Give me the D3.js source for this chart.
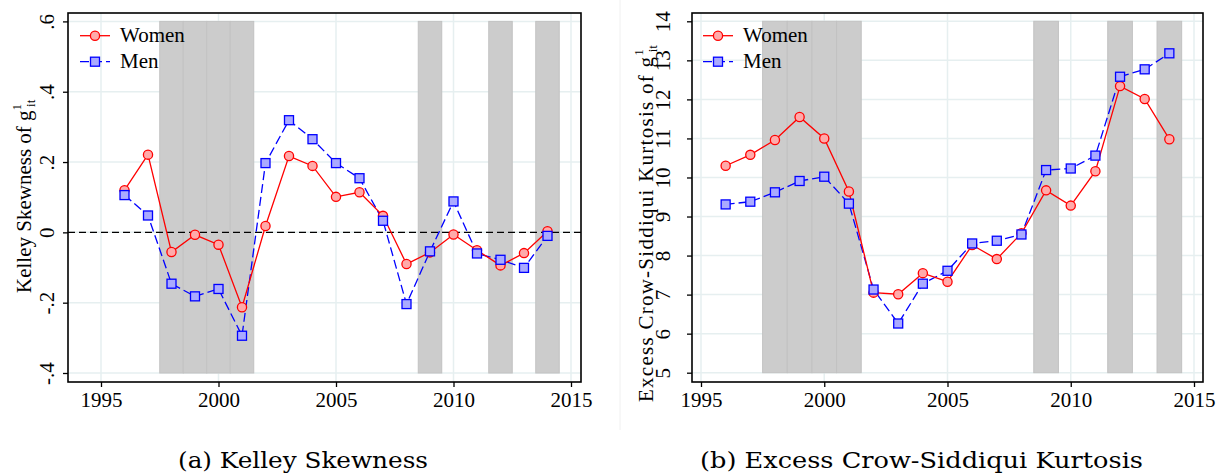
<!DOCTYPE html>
<html>
<head>
<meta charset="utf-8">
<script src="https://cdn.jsdelivr.net/npm/d3@7"></script>
<style>
  html, body { margin: 0; padding: 0; background: #fff; }
  svg { display: block; }
  text { font-family: "Liberation Serif", "Times New Roman", Times, serif; fill: #000; }
</style>
</head>
<body>
<svg id="chart" width="1216" height="476"></svg>
<script>
// ---------- data ----------
const years = [1996,1997,1998,1999,2000,2001,2002,2003,2004,2005,2006,2007,2008,2009,2010,2011,2012,2013,2014];
const skewWomen = [0.12,0.221,-0.056,-0.007,-0.035,-0.213,0.018,0.217,0.189,0.101,0.114,0.047,-0.090,-0.057,-0.006,-0.051,-0.094,-0.059,0.003];
const skewMen   = [0.106,0.048,-0.146,-0.182,-0.161,-0.294,0.197,0.319,0.265,0.197,0.154,0.033,-0.204,-0.054,0.088,-0.060,-0.078,-0.101,-0.010];
const kurtWomen = [10.30,10.58,10.96,11.55,11.00,9.64,7.05,7.01,7.55,7.33,8.27,7.91,8.57,9.67,9.28,10.16,12.34,12.01,10.98];
const kurtMen   = [9.31,9.38,9.62,9.91,10.02,9.33,7.13,6.26,7.28,7.61,8.31,8.38,8.54,10.19,10.23,10.56,12.58,12.77,13.18];
const recessionYears = [1998,1999,2000,2001,2009,2012,2014];
const xTicks = [1995,2000,2005,2010,2015];
const skewTicks = [-0.4,-0.2,0,0.2,0.4,0.6];
const skewTickLabels = ["-.4","-.2","0",".2",".4",".6"];
const kurtTicks = [5,6,7,8,9,10,11,12,13,14];
const seriesNames = ["Women","Men"];
const captions = ["(a) Kelley Skewness","(b) Excess Crow-Siddiqui Kurtosis"];
const yTitles = ["Kelley Skewness of g","Excess Crow-Siddiqui Kurtosis of g"];

// ---------- styles ----------
const SERIF = "'Liberation Serif', 'Times New Roman', Times, serif";
const RED = "#ff0000", BLUE = "#0000ff";
const RED_FILL = "#ffaaaa", BLUE_FILL = "#aaaaff";
const GRID = "#e6eff0";
const BAR = "#cccccc", BAR_EDGE = "#c2c2c2";

const svg = d3.select("#chart");

// faint separator between panels
svg.append("line").attr("x1",620).attr("x2",620).attr("y1",0).attr("y2",430)
  .attr("stroke","#f0f0f0").attr("stroke-width",1);

function panel(cfg) {
  const g = svg.append("g");
  const x = d3.scaleLinear().domain([1995,2015]).range(cfg.xr);
  const y = d3.scaleLinear().domain(cfg.yd).range(cfg.yr);
  const [fl, fr] = cfg.fx, [ft, fb] = cfg.fy;

  // grid
  g.append("g").selectAll("line").data(xTicks).join("line")
    .attr("x1", d => x(d)).attr("x2", d => x(d)).attr("y1", ft).attr("y2", fb)
    .attr("stroke", GRID).attr("stroke-width", 1.5);
  g.append("g").selectAll("line").data(cfg.ticks).join("line")
    .attr("x1", fl).attr("x2", fr).attr("y1", d => y(d)).attr("y2", d => y(d))
    .attr("stroke", GRID).attr("stroke-width", 1.5);

  // recession bars
  g.append("g").selectAll("rect").data(recessionYears).join("rect")
    .attr("x", d => x(d - 0.5)).attr("width", d => x(d + 0.5) - x(d - 0.5))
    .attr("y", y(cfg.yd[1])).attr("height", y(cfg.yd[0]) - y(cfg.yd[1]))
    .attr("fill", BAR).attr("stroke", BAR_EDGE).attr("stroke-width", 1);

  // zero line
  if (cfg.zero) {
    g.append("line").attr("x1", fl).attr("x2", fr).attr("y1", y(0)).attr("y2", y(0))
      .attr("stroke", "#000").attr("stroke-width", 1.4).attr("stroke-dasharray", "7,4");
  }

  // series
  const line = d3.line().x((d,i) => x(years[i])).y(d => y(d));
  g.append("path").datum(cfg.men).attr("d", line).attr("fill","none")
    .attr("stroke", BLUE).attr("stroke-width", 1.3).attr("stroke-dasharray","9,4");
  g.append("path").datum(cfg.women).attr("d", line).attr("fill","none")
    .attr("stroke", RED).attr("stroke-width", 1.3);
  g.append("g").selectAll("circle").data(cfg.women).join("circle")
    .attr("cx", (d,i) => x(years[i])).attr("cy", d => y(d)).attr("r", 4.6)
    .attr("fill", RED_FILL).attr("stroke", RED).attr("stroke-width", 1.3);
  g.append("g").selectAll("rect").data(cfg.men).join("rect")
    .attr("x", (d,i) => x(years[i]) - 4.5).attr("y", d => y(d) - 4.5)
    .attr("width", 9).attr("height", 9)
    .attr("fill", BLUE_FILL).attr("stroke", BLUE).attr("stroke-width", 1.3);

  // axes
  const ya = g.append("g").attr("transform", `translate(${fl},0)`)
    .call(d3.axisLeft(y).tickValues(cfg.ticks).tickSize(5).tickFormat((d,i) => cfg.labels[i]));
  ya.attr("font-family", null).attr("font-size", null);
  ya.select(".domain").remove();
  ya.selectAll(".tick line").attr("stroke","#000").attr("stroke-width",1.3);
  ya.selectAll(".tick text").attr("x", 0).attr("dy", 0)
    .attr("transform", `translate(${-cfg.ylabOff},0) rotate(-90)`)
    .attr("text-anchor","middle").style("font-size","21px")
    .style("font-family", SERIF);

  const xa = g.append("g").attr("transform", `translate(0,${fb})`)
    .call(d3.axisBottom(x).tickValues(xTicks).tickSize(5).tickFormat(d3.format("d")));
  xa.attr("font-family", null).attr("font-size", null);
  xa.select(".domain").remove();
  xa.selectAll(".tick line").attr("stroke","#000").attr("stroke-width",1.3);
  xa.selectAll(".tick text").attr("y", 25).attr("dy", 0)
    .style("font-size","21px").style("font-family", SERIF);

  // frame
  g.append("rect").attr("x", fl).attr("y", ft).attr("width", fr - fl).attr("height", fb - ft)
    .attr("fill","none").attr("stroke","#000").attr("stroke-width",1.6);

  // y title
  const t = g.append("text")
    .attr("transform", `translate(${cfg.titleX},${cfg.titleY}) rotate(-90)`)
    .attr("text-anchor","start").style("font-size","21px");
  const main = t.append("tspan").text(cfg.title);
  if (cfg.titleLen) main.attr("textLength", cfg.titleLen).attr("lengthAdjust", "spacing");
  t.append("tspan").attr("dy", -10).style("font-size","13px").text("1");
  t.append("tspan").attr("dy", 14).attr("dx", -3).style("font-size","13px").text("it");

  // legend
  const lg = g.append("g");
  const lx = cfg.legX;
  [[RED, RED_FILL, null, "circle", 35.7], [BLUE, BLUE_FILL, "9,4", "square", 61.7]].forEach((s, k) => {
    const yy = s[4];
    lg.append("line").attr("x1", lx).attr("x2", lx + 30).attr("y1", yy).attr("y2", yy)
      .attr("stroke", s[0]).attr("stroke-width", 1.3).attr("stroke-dasharray", s[2]);
    if (s[3] === "circle") {
      lg.append("circle").attr("cx", lx + 15).attr("cy", yy).attr("r", 4.6)
        .attr("fill", s[1]).attr("stroke", s[0]).attr("stroke-width", 1.3);
    } else {
      lg.append("rect").attr("x", lx + 10.5).attr("y", yy - 4.5).attr("width", 9).attr("height", 9)
        .attr("fill", s[1]).attr("stroke", s[0]).attr("stroke-width", 1.3);
    }
    lg.append("text").attr("x", lx + 40).attr("y", yy + 6.5).style("font-size","21px").text(seriesNames[k]);
  });

  // caption
  svg.append("text").attr("x", cfg.capX).attr("y", 468).attr("text-anchor","start")
    .attr("textLength", cfg.capW).attr("lengthAdjust","spacingAndGlyphs")
    .style("font-family","'DejaVu Serif', serif").style("font-size","22px")
    .text(cfg.caption);
}

panel({
  xr: [101, 571], yd: [-0.4, 0.6], yr: [373, 21.4],
  fx: [68, 581], fy: [13, 382],
  ticks: skewTicks, labels: skewTickLabels, ylabOff: 14,
  zero: true, women: skewWomen, men: skewMen,
  title: yTitles[0], titleX: 31, titleY: 293, titleLen: null,
  legX: 80, caption: captions[0], capX: 178, capW: 250
});
panel({
  xr: [701, 1194], yd: [5, 14], yr: [372.7, 21.3],
  fx: [692, 1203], fy: [13, 382],
  ticks: kurtTicks, labels: kurtTicks.map(String), ylabOff: 22,
  zero: false, women: kurtWomen, men: kurtMen,
  title: yTitles[1], titleX: 653, titleY: 402, titleLen: 345,
  legX: 703, caption: captions[1], capX: 700, capW: 443
});
</script>
</body>
</html>
